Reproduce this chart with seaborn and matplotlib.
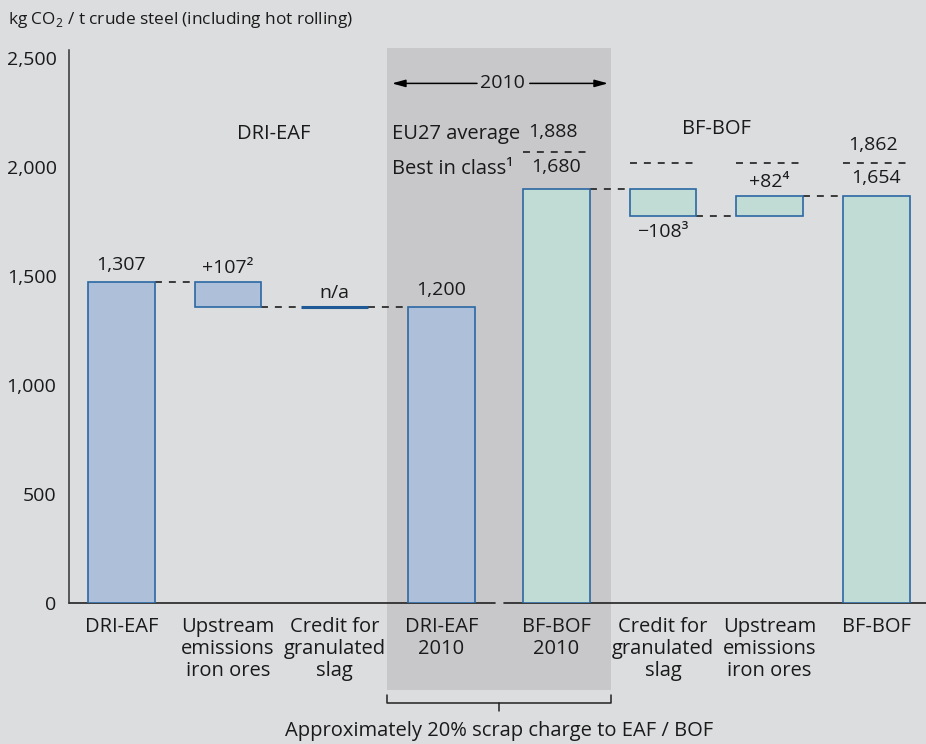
import numpy as np
import pandas as pd
import matplotlib
matplotlib.use('Agg')
import matplotlib.pyplot as plt
import matplotlib.transforms as mtransforms
from matplotlib.patches import Rectangle
import seaborn as sns

# данные
categories = ['DRI-EAF', 'Upstream\nemissions\niron ores', 'Credit for\ngranulated\nslag', 'DRI-EAF\n2010',
              'BF-BOF\n2010', 'Credit for\ngranulated\nslag', 'Upstream\nemissions\niron ores', 'BF-BOF']
groups = ['DRI-EAF'] * 4 + ['BF-BOF'] * 4
bar_top = [1471, 1471, 1356, 1356, 1898, 1898, 1866, 1866]
bar_bottom = [0, 1356, 1356, 0, 0, 1774, 1774, 0]
value_labels = ['1,307', '+107²', 'n/a', '1,200', '1,680', '−108³', '+82⁴', '1,654']
ref_levels = [np.nan, np.nan, np.nan, np.nan, 2068, 2016, 2016, 2016]
ref_labels = ['', '', '', '', '1,888', '', '', '1,862']
y_ticks = [0, 500, 1000, 1500, 2000, 2500]

BG = '#dcdddf'
SHADE = '#c8c8ca'
EDGE = '#2b68a3'
TXT = '#1a1a1a'
DASH = '#262626'
palette = {'DRI-EAF': '#aebfd9', 'BF-BOF': '#c1dcd5'}

sns.set_style('white')
plt.rcParams['font.family'] = ['Open Sans', 'DejaVu Sans']
plt.rcParams['mathtext.fontset'] = 'custom'
plt.rcParams['mathtext.rm'] = 'Open Sans'

fig = plt.figure(figsize=(9.26, 7.44), dpi=100, facecolor=BG)
ax = fig.add_axes([69 / 926, 0.1891, 1 - 69 / 926, 0.7437])
ax.set_facecolor('none')

n = len(categories)
idx = np.arange(n)
pos = idx + np.where(idx >= 4, 0.08, 0.0)
df = pd.DataFrame({
    'pos': pos,
    'height': np.array(bar_top) - np.array(bar_bottom),
    'bottom': bar_bottom,
    'group': groups,
})

# бары (плавающие через bottom)
for g, sub in df.groupby('group', sort=False):
    sns.barplot(data=sub, x='pos', y='height', native_scale=True, width=0.625,
                color=palette[g], saturation=1, bottom=sub['bottom'].values,
                edgecolor=EDGE, linewidth=1.2, errorbar=None, ax=ax, zorder=3)

# n/a - нулевой бар, делаем линию толще
for p in ax.patches:
    if abs(p.get_height()) < 1e-9:
        p.set_linewidth(2.2)
        p.set_edgecolor('#1f5a96')

half = 0.625 / 2
# соединительные пунктиры
for i in range(n - 1):
    common = set([bar_top[i], bar_bottom[i]]) & set([bar_top[i + 1], bar_bottom[i + 1]])
    common = [c for c in common if c > 0]
    if not common:
        continue
    ax.plot([pos[i] + half, pos[i + 1] - half], [common[0]] * 2, color=DASH,
            lw=1.25, dashes=(4, 4), zorder=2)

# верхние пунктиры (EU27 average)
ref_offsets = [0, 0, 0, 0, 90, 0, 0, 82]
for i in range(n):
    if not np.isnan(ref_levels[i]):
        ax.plot([pos[i] - half, pos[i] + half], [ref_levels[i]] * 2, color=DASH,
                lw=1.25, dashes=(4, 4), zorder=2)
        if ref_labels[i]:
            ax.text(pos[i] - 0.03, ref_levels[i] + ref_offsets[i], ref_labels[i], ha='center',
                    va='center', fontsize=14, color=TXT)

# подписи значений
offsets = [78, 64, 65, 79, 100, None, 63, 82]
for i in range(n):
    if offsets[i] is None:
        y = bar_bottom[i] - 74
    else:
        y = bar_top[i] + offsets[i]
    ax.text(pos[i], y, value_labels[i], ha='center', va='center', fontsize=14, color=TXT)

ax.text(2.537, 2152, 'EU27 average', ha='left', va='center', fontsize=14.5, color=TXT)
ax.text(2.537, 1990, 'Best in class¹', ha='left', va='center', fontsize=14.5, color=TXT)
ax.text(1.43, 2152, 'DRI-EAF', ha='center', va='center', fontsize=14.5, color=TXT)
ax.text(5.58, 2172, 'BF-BOF', ha='center', va='center', fontsize=14.5, color=TXT)

# стрелка 2010
ax.text(3.569, 2382, '2010', ha='center', va='center', fontsize=14, color=TXT)
arr = dict(arrowstyle='-|>,head_length=0.8,head_width=0.22', color='black', lw=1.1,
           shrinkA=0, shrinkB=0)
ax.annotate('', xy=(2.537, 2382), xytext=(3.335, 2382), arrowprops=arr)
ax.annotate('', xy=(4.564, 2382), xytext=(3.83, 2382), arrowprops=arr)

# серая область 2010
trans = mtransforms.blended_transform_factory(ax.transData, fig.transFigure)
ax.add_patch(Rectangle((2.49, 1 - 690 / 744), 2.1, (690 - 48) / 744, transform=trans,
                       facecolor=SHADE, edgecolor='none', zorder=0, clip_on=False))

# скобка снизу
yb = 1 - 703 / 744
ax.plot([2.49, 2.49, 4.59, 4.59], [1 - 695 / 744, yb, yb, 1 - 695 / 744], color='#222222',
        lw=1.1, transform=trans, clip_on=False)
ax.plot([3.54, 3.54], [yb, 1 - 711 / 744], color='#222222', lw=1.1, transform=trans, clip_on=False)
fig.text(499 / 926, 1 - 731 / 744, 'Approximately 20% scrap charge to EAF / BOF',
         ha='center', va='center', fontsize=14.5, color=TXT)

# оси
ax.set_xlim(-0.4925, 7.547)
ax.set_ylim(0, 2535)
ax.set_yticks(y_ticks, [f'{v:,}' for v in y_ticks])
ax.set_xticks(pos, categories)
ax.set_xlabel('')
ax.set_ylabel('')
for lab in ax.get_xticklabels():
    lab.set_linespacing(1.12)
    lab.set_fontsize(14.5)
ax.tick_params(axis='both', length=0, labelcolor=TXT)
ax.tick_params(axis='y', pad=9, labelsize=14)
ax.tick_params(axis='x', pad=10)

for s in ['top', 'right', 'bottom']:
    ax.spines[s].set_visible(False)
ax.spines['left'].set_color('#333333')
ax.spines['left'].set_linewidth(1.1)

# разорванная ось X
tb = mtransforms.blended_transform_factory(ax.transData, ax.transAxes)
ax.plot([-0.4925, 3.505], [0, 0], color='#222222', lw=1.2, transform=tb, clip_on=False)
ax.plot([3.59, 7.547], [0, 0], color='#222222', lw=1.2, transform=tb, clip_on=False)

fig.text(8 / 926, 1 - 20 / 744, r'kg CO$_{\mathregular{2}}$ / t crude steel (including hot rolling)',
         ha='left', va='center', fontsize=12.4, color=TXT)

fig.savefig('out.png', dpi=100, facecolor=BG)
